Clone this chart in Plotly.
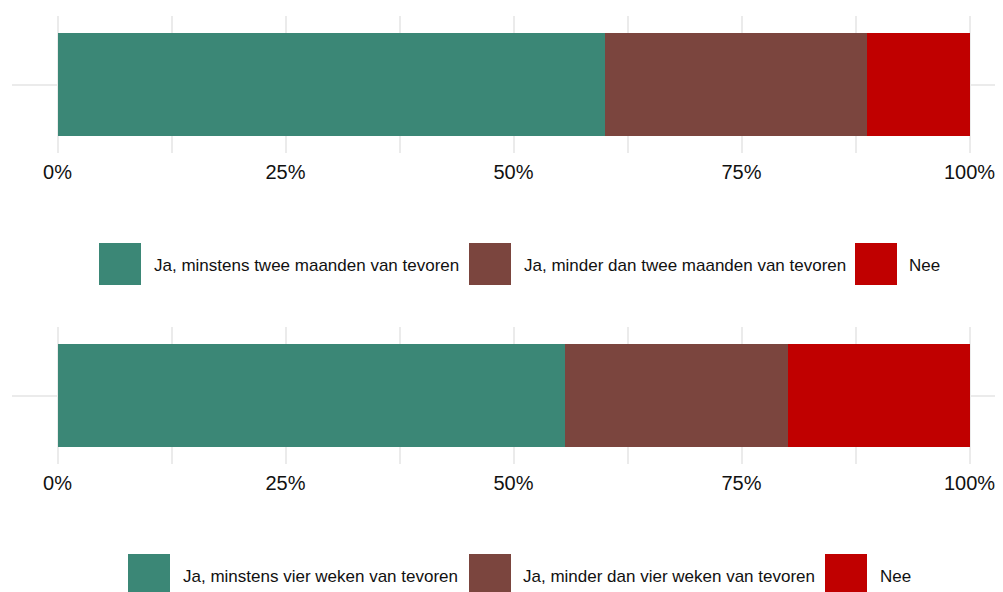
import plotly.graph_objects as go

# answers, in fractions of respondents
labels_top = ["Ja, minstens twee maanden van tevoren",
              "Ja, minder dan twee maanden van tevoren", "Nee"]
values_top = [0.600, 0.288, 0.112]

labels_bottom = ["Ja, minstens vier weken van tevoren",
                 "Ja, minder dan vier weken van tevoren", "Nee"]
values_bottom = [0.557, 0.244, 0.199]

colors = ["#3B8776", "#7B453E", "#C00000"]
tick_vals = [0, 0.25, 0.5, 0.75, 1.0]

W, H = 1003, 592
OFF = 8  # page body margin
font = "Liberation Sans, Arial, sans-serif"

def px(p):
    return (p - OFF) / W

def py(p):
    return 1 - (p - OFF) / H

fig = go.Figure()
for lab, val, col in zip(labels_top, values_top, colors):
    fig.add_trace(go.Bar(x=[val], y=["q"], orientation="h", name=lab,
                         marker=dict(color=col, line=dict(width=0)),
                         width=0.9, xaxis="x", yaxis="y", showlegend=False))
for lab, val, col in zip(labels_bottom, values_bottom, colors):
    fig.add_trace(go.Bar(x=[val], y=["q"], orientation="h", name=lab,
                         marker=dict(color=col, line=dict(width=0)),
                         width=0.9, xaxis="x2", yaxis="y2", showlegend=False))

zero_px = 57.5 - OFF
xax = dict(range=[(12 - OFF - zero_px) / 912, (W - zero_px) / 912],
           domain=[px(12), 1],
           tickvals=tick_vals, tickformat=".0%", ticklabelstandoff=5,
           showgrid=True, gridcolor="#EBEBEB", gridwidth=2,
           minor=dict(dtick=0.125, tick0=0, showgrid=True,
                      gridcolor="#EBEBEB", gridwidth=1.6),
           zeroline=False, showline=False, ticks="",
           tickfont=dict(size=20, color="#111111"), fixedrange=True)
yax = dict(range=[-0.6, 0.6], showticklabels=False, showgrid=True,
           gridcolor="#EBEBEB", gridwidth=2, zeroline=False, ticks="")

fig.update_layout(
    barmode="stack", width=W, height=H,
    margin=dict(l=0, r=0, t=0, b=0),
    paper_bgcolor="white", plot_bgcolor="white",
    font=dict(family=font, color="#111111"),
    xaxis=dict(xax, anchor="y"),
    yaxis=dict(yax, domain=[py(153), py(16)], anchor="x"),
    xaxis2=dict(xax, anchor="y2"),
    yaxis2=dict(yax, domain=[py(464), py(327)], anchor="x2"),
)

# legends drawn as keys + text below each panel
def add_legend(labels, key_x, text_x, y_top):
    for lab, col, kx, tx in zip(labels, colors, key_x, text_x):
        fig.add_shape(type="rect", xref="paper", yref="paper",
                      x0=px(kx), x1=px(kx + 42),
                      y0=py(y_top + 42), y1=py(y_top),
                      fillcolor=col, line=dict(width=0))
        fig.add_annotation(text=lab, xref="paper", yref="paper",
                           x=px(tx), y=py(y_top + 22),
                           xanchor="left", yanchor="middle", showarrow=False,
                           font=dict(size=17, color="#111111"))

add_legend(labels_top, [99, 469, 855], [152, 522, 907], 243)
add_legend(labels_bottom, [128, 469, 825], [181, 521, 878], 554)

fig.write_html("out.html")
